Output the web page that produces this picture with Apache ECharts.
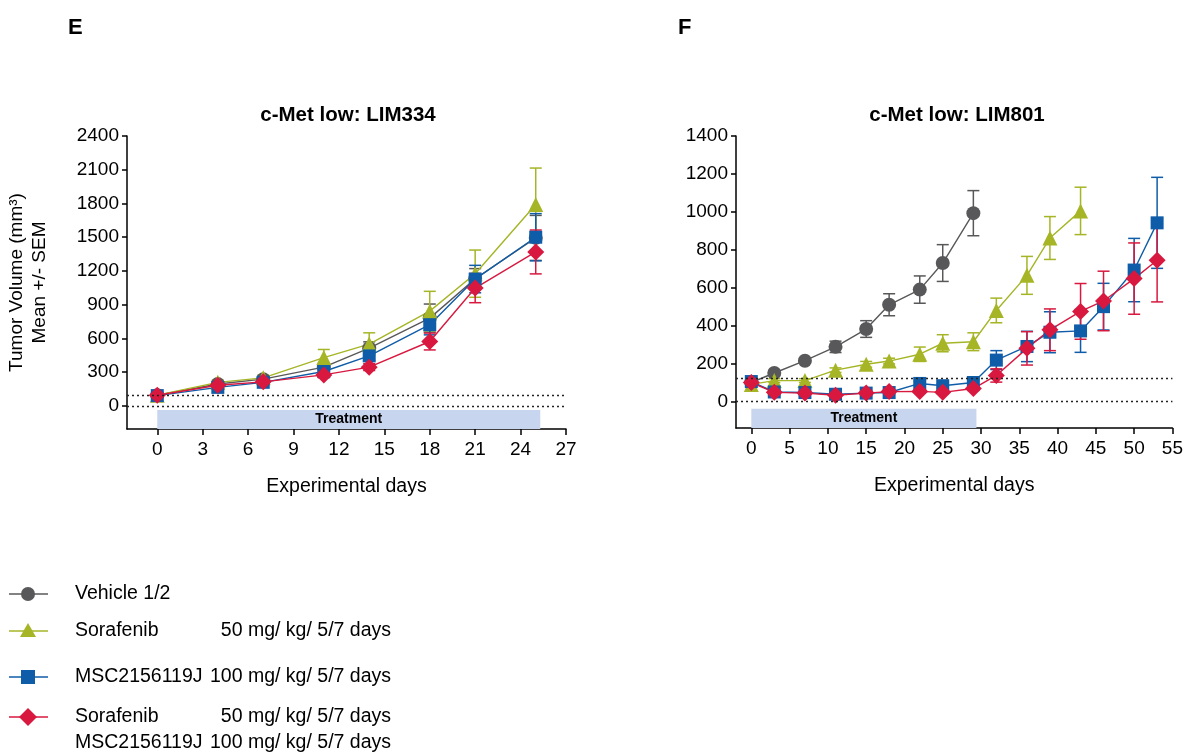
<!DOCTYPE html>
<html>
<head>
<meta charset="utf-8">
<script src="https://cdn.jsdelivr.net/npm/echarts@6/dist/echarts.min.js"></script>
<style>
  html, body { margin: 0; padding: 0; background: #fff; }
  #chart { width: 1186px; height: 754px; }
</style>
</head>
<body>
<div id="chart"></div>
<script>
// ---- data ----
const leftDays = [0, 4, 7, 11, 14, 18, 21, 25];
const leftVehicle = [95, 195, 238, 345, 514, 781, 1131, 1494];
const leftVehicleSem = [10, 20, 20, 30, 56, 125, 90, 200];
const leftSorafenib = [95, 210, 250, 430, 550, 843, 1176, 1791];
const leftSorafenibSem = [10, 20, 20, 72, 100, 176, 210, 324];
const leftMsc = [92, 165, 210, 306, 445, 722, 1128, 1500];
const leftMscSem = [10, 15, 15, 25, 40, 90, 122, 210];
const leftCombo = [95, 184, 214, 276, 345, 573, 1048, 1369];
const leftComboSem = [10, 15, 15, 25, 30, 75, 130, 195];

const rightDays = [0, 3, 7, 11, 15, 18, 22, 25, 29, 32, 36, 39, 43, 46, 50, 53];
const rightVehicle = [100, 150, 215, 288, 382, 510, 590, 730, 993];
const rightVehicleSem = [8, 10, 12, 30, 44, 58, 72, 97, 119];
const rightSorafenib = [90, 110, 110, 165, 196, 213, 249, 307, 315, 480, 665, 862, 1005];
const rightSorafenibSem = [10, 10, 10, 12, 15, 15, 38, 45, 47, 65, 100, 113, 125];
const rightMsc = [105, 50, 47, 38, 44, 47, 95, 83, 100, 218, 290, 365, 372, 500, 693, 942];
const rightMscSem = [10, 8, 8, 8, 8, 8, 12, 12, 15, 50, 80, 108, 113, 123, 167, 240];
const rightCombo = [100, 48, 44, 33, 44, 52, 53, 48, 68, 137, 280, 378, 475, 530, 648, 745];
const rightComboSem = [10, 8, 8, 8, 8, 8, 8, 8, 10, 35, 88, 110, 147, 157, 188, 220];

const leftXTicks = [0, 3, 6, 9, 12, 15, 18, 21, 24, 27];
const leftYTicks = [0, 300, 600, 900, 1200, 1500, 1800, 2100, 2400];
const rightXTicks = [0, 5, 10, 15, 20, 25, 30, 35, 40, 45, 50, 55];
const rightYTicks = [0, 200, 400, 600, 800, 1000, 1200, 1400];

const leftBaseline = 95;
const rightBaseline = 120;
const leftTreatmentEnd = 25.3;
const rightTreatmentEnd = 29.4;

const seriesNames = ['Vehicle 1/2', 'Sorafenib', 'MSC2156119J', 'Sorafenib + MSC2156119J'];
const legendRows = [
  ['Vehicle 1/2', ''],
  ['Sorafenib', '50 mg/ kg/ 5/7 days'],
  ['MSC2156119J', '100 mg/ kg/ 5/7 days'],
  ['Sorafenib', '50 mg/ kg/ 5/7 days'],
  ['MSC2156119J', '100 mg/ kg/ 5/7 days'],
];

// ---- styling ----
const FONT = '"Liberation Sans", Arial, sans-serif';
const INK = '#000';
const colors = ['#58585a', '#a6b526', '#0f5ca8', '#d8183f'];
const symbols = ['circle', 'triangle', 'rect', 'diamond'];
const symbolSizes = [14, 15, 13, 17];

const pairs = (xs, ys) => ys.map((y, i) => [xs[i], y]);
const triples = (xs, ys, es) => ys.map((y, i) => [xs[i], y, es[i]]);

function errRender(params, api) {
  const x = api.value(0);
  const y = api.value(1);
  const e = api.value(2);
  const top = api.coord([x, y + e]);
  const bot = api.coord([x, y - e]);
  const hw = 6;
  const style = { stroke: api.visual('color'), lineWidth: 1.5 };
  return {
    type: 'group',
    children: [
      { type: 'line', shape: { x1: top[0], y1: top[1], x2: bot[0], y2: bot[1] }, style },
      { type: 'line', shape: { x1: top[0] - hw, y1: top[1], x2: top[0] + hw, y2: top[1] }, style },
      { type: 'line', shape: { x1: bot[0] - hw, y1: bot[1], x2: bot[0] + hw, y2: bot[1] }, style },
    ],
  };
}

function lineSeries(idx, gridIdx, data) {
  return {
    name: seriesNames[idx],
    type: 'line',
    xAxisIndex: gridIdx,
    yAxisIndex: gridIdx,
    data,
    z: 4,
    symbol: symbols[idx],
    symbolSize: symbolSizes[idx],
    color: colors[idx],
    lineStyle: { width: 1.4, color: colors[idx] },
    itemStyle: { color: colors[idx] },
    animation: false,
  };
}

function errSeries(idx, gridIdx, data) {
  return {
    type: 'custom',
    xAxisIndex: gridIdx,
    yAxisIndex: gridIdx,
    data,
    z: 3,
    color: colors[idx],
    itemStyle: { color: colors[idx] },
    encode: { x: 0, y: 1 },
    renderItem: errRender,
    animation: false,
  };
}

function decorations(baseline, treatEnd, areaTop, yMin) {
  return {
    markLine: {
      silent: true,
      symbol: ['none', 'none'],
      label: { show: false },
      lineStyle: { type: [2, 3], color: '#222', width: 1.3 },
      data: [{ yAxis: 0 }, { yAxis: baseline }],
    },
    markArea: {
      silent: true,
      itemStyle: { color: '#c8d5ee' },
      label: {
        show: true,
        position: 'inside',
        color: INK,
        fontFamily: FONT,
        fontWeight: 'bold',
        fontSize: 14,
      },
      data: [[{ name: 'Treatment', xAxis: 0, yAxis: areaTop }, { xAxis: treatEnd, yAxis: yMin }]],
    },
  };
}

function xAxis(gridIdx, min, max, ticks) {
  return {
    type: 'value',
    gridIndex: gridIdx,
    min,
    max,
    name: 'Experimental days',
    nameLocation: 'middle',
    nameGap: 48,
    nameTextStyle: { fontFamily: FONT, fontSize: 19.5, color: INK },
    axisLine: { onZero: false, lineStyle: { color: INK, width: 1.5 } },
    axisTick: { customValues: ticks, length: 6, lineStyle: { color: INK, width: 1.5 } },
    axisLabel: { customValues: ticks, formatter: v => String(v), fontFamily: FONT, fontSize: 19, color: INK, margin: 11 },
    splitLine: { show: false },
  };
}

function yAxis(gridIdx, min, max, ticks, name) {
  return {
    type: 'value',
    gridIndex: gridIdx,
    min,
    max,
    name,
    nameLocation: 'middle',
    nameGap: 76,
    nameTextStyle: { fontFamily: FONT, fontSize: 19, color: INK, lineHeight: 23 },
    axisLine: { show: true, onZero: false, lineStyle: { color: INK, width: 1.5 } },
    axisTick: { show: true, customValues: ticks, length: 5, lineStyle: { color: INK, width: 1.5 } },
    axisLabel: { customValues: ticks, formatter: v => String(v), fontFamily: FONT, fontSize: 19, color: INK, margin: 8 },
    splitLine: { show: false },
  };
}

const leftSeriesData = [
  [leftVehicle, leftVehicleSem],
  [leftSorafenib, leftSorafenibSem],
  [leftMsc, leftMscSem],
  [leftCombo, leftComboSem],
];
const rightSeriesData = [
  [rightVehicle, rightVehicleSem],
  [rightSorafenib, rightSorafenibSem],
  [rightMsc, rightMscSem],
  [rightCombo, rightComboSem],
];

const series = [];
leftSeriesData.forEach(([vals, sems], i) => {
  series.push(errSeries(i, 0, triples(leftDays, vals, sems)));
  const s = lineSeries(i, 0, pairs(leftDays, vals));
  if (i === 0) Object.assign(s, decorations(leftBaseline, leftTreatmentEnd, -36, -205));
  series.push(s);
});
rightSeriesData.forEach(([vals, sems], i) => {
  series.push(errSeries(i, 1, triples(rightDays, vals, sems)));
  const s = lineSeries(i, 1, pairs(rightDays, vals));
  if (i === 0) Object.assign(s, decorations(rightBaseline, rightTreatmentEnd, -38, -140));
  series.push(s);
});

// legend drawn as graphic so the dose column lines up like the original
const legendY = [594, 631, 677, 717];
const textY = [594, 631, 677, 717, 743];
const graphic = [
  { type: 'text', x: 68, y: 28, style: { text: 'E', font: 'bold 22px ' + FONT, fill: INK, textVerticalAlign: 'middle' } },
  { type: 'text', x: 678, y: 28, style: { text: 'F', font: 'bold 22px ' + FONT, fill: INK, textVerticalAlign: 'middle' } },
  { type: 'text', x: 348, y: 115, style: { text: 'c-Met low: LIM334', font: 'bold 20.5px ' + FONT, fill: INK, textAlign: 'center', textVerticalAlign: 'middle' } },
  { type: 'text', x: 957, y: 115, style: { text: 'c-Met low: LIM801', font: 'bold 20.5px ' + FONT, fill: INK, textAlign: 'center', textVerticalAlign: 'middle' } },
];
legendY.forEach((y, i) => {
  graphic.push({ type: 'line', shape: { x1: 9, y1: y, x2: 48, y2: y }, style: { stroke: colors[i], lineWidth: 1.5 } });
  const cx = 28;
  let shape;
  if (i === 0) shape = { type: 'circle', shape: { cx, cy: y, r: 7 } };
  if (i === 1) shape = { type: 'polygon', shape: { points: [[cx, y - 8], [cx - 8, y + 6], [cx + 8, y + 6]] } };
  if (i === 2) shape = { type: 'rect', shape: { x: cx - 7, y: y - 7, width: 14, height: 14 } };
  if (i === 3) shape = { type: 'polygon', shape: { points: [[cx, y - 9], [cx + 9, y], [cx, y + 9], [cx - 9, y]] } };
  shape.style = { fill: colors[i] };
  graphic.push(shape);
});
legendRows.forEach(([name, dose], i) => {
  graphic.push({ type: 'text', x: 75, y: textY[i], style: { text: name, font: '19.5px ' + FONT, fill: INK, textVerticalAlign: 'middle' } });
  if (dose) {
    graphic.push({ type: 'text', x: 391, y: textY[i], style: { text: dose, font: '19.5px ' + FONT, fill: INK, textAlign: 'right', textVerticalAlign: 'middle' } });
  }
});

const chart = echarts.init(document.getElementById('chart'));
chart.setOption({
  backgroundColor: '#fff',
  animation: false,
  grid: [
    { left: 127, top: 136, width: 439, height: 293 },
    { left: 736, top: 136, width: 439, height: 292 },
  ],
  xAxis: [xAxis(0, -2, 27, leftXTicks), xAxis(1, -2, 55, rightXTicks)],
  yAxis: [
    yAxis(0, -205, 2400, leftYTicks, 'Tumor Volume (mm³)\nMean +/- SEM'),
    yAxis(1, -140, 1400, rightYTicks, ''),
  ],
  series,
  graphic,
});
</script>
</body>
</html>
